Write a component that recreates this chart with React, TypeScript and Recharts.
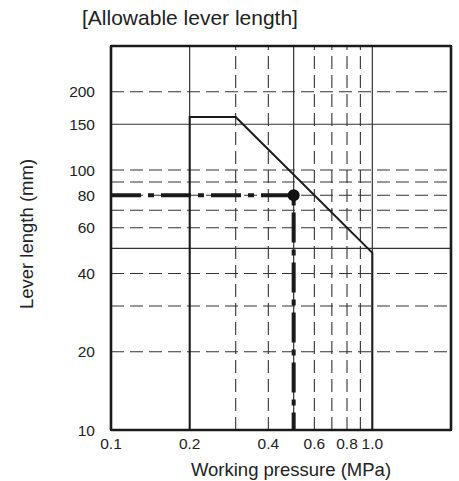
import React from 'react';
import {
  ComposedChart,
  Line,
  XAxis,
  YAxis,
  ReferenceLine,
  ReferenceDot,
} from 'recharts';

// Axis ticks
const pressureTicks = [0.1, 0.2, 0.4, 0.6, 0.8, 1.0];
const lengthTicks = [10, 20, 40, 60, 80, 100, 150, 200];

// Grid lines
const pressureSolidGrid = [0.2, 0.5, 1.0];
const pressureDashedGrid = [0.3, 0.4, 0.6, 0.7, 0.8, 0.9];
const lengthSolidGrid = [50, 150];
const lengthDashedGrid = [20, 30, 40, 60, 70, 80, 90, 100, 200];

// Allowable range boundary
const boundaryPressure = [0.2, 0.2, 0.3, 1.0, 1.0];
const boundaryLength = [10, 160, 160, 48, 10];

// Example reading (0.5 MPa, 80 mm)
const examplePressure = [0.1, 0.5, 0.5];
const exampleLength = [80, 80, 10];
const examplePoint = { p: 0.5, l: 80 };

const pressureDomain = [0.1, 2];
const lengthDomain = [10, 300];

const boundaryData = boundaryPressure.map((p, i) => ({ p, l: boundaryLength[i] }));
const exampleData = examplePressure.map((p, i) => ({ p, l: exampleLength[i] }));

// Layout
const CHART_W = 459;
const CHART_H = 481;
const MARGIN = { top: 46, right: 8, bottom: 21, left: 51 };
const Y_AXIS_W = 60;
const X_AXIS_H = 30;
const PLOT_LEFT = MARGIN.left + Y_AXIS_W;
const PLOT_TOP = MARGIN.top;
const PLOT_W = CHART_W - MARGIN.left - MARGIN.right - Y_AXIS_W;
const PLOT_H = CHART_H - MARGIN.top - MARGIN.bottom - X_AXIS_H;
const FRAME_W = 2;

const FONT = '"Liberation Sans", Arial, Helvetica, sans-serif';
const TEXT = '#222';
const GRID = '#333';
const FRAME_COLOR = '#1a1a1a';

export default function App() {
  return (
    <div
      style={{
        position: 'fixed',
        left: 0,
        top: 0,
        width: CHART_W,
        height: CHART_H,
        background: '#fff',
        fontFamily: FONT,
        color: TEXT,
      }}
    >
      <ComposedChart width={CHART_W} height={CHART_H} margin={MARGIN}>
        <XAxis
          dataKey="p"
          type="number"
          scale="log"
          domain={pressureDomain}
          allowDataOverflow
          ticks={pressureTicks}
          tickFormatter={(v: number) => v.toFixed(1)}
          interval={0}
          axisLine={{ stroke: FRAME_COLOR, strokeWidth: 2.6 }}
          tickLine={false}
          height={X_AXIS_H}
          tick={{ fill: TEXT, fontSize: 15.5, fontFamily: FONT }}
        />
        <YAxis
          dataKey="l"
          type="number"
          scale="log"
          domain={lengthDomain}
          allowDataOverflow
          ticks={lengthTicks}
          interval={0}
          axisLine={{ stroke: FRAME_COLOR, strokeWidth: 2.6 }}
          tickLine={false}
          tickMargin={10}
          width={Y_AXIS_W}
          tick={{ fill: TEXT, fontSize: 15.5, fontFamily: FONT }}
        />
        {pressureDashedGrid.map((v) => (
          <ReferenceLine key={'xd' + v} x={v} stroke={GRID} strokeWidth={1.1} strokeDasharray="13 6" />
        ))}
        {lengthDashedGrid.map((v) => (
          <ReferenceLine key={'yd' + v} y={v} stroke={GRID} strokeWidth={1.1} strokeDasharray="13 6" />
        ))}
        {pressureSolidGrid.map((v) => (
          <ReferenceLine key={'xs' + v} x={v} stroke={GRID} strokeWidth={1.2} />
        ))}
        {lengthSolidGrid.map((v) => (
          <ReferenceLine key={'ys' + v} y={v} stroke={GRID} strokeWidth={1.2} />
        ))}
        <ReferenceLine y={lengthDomain[1]} ifOverflow="visible" stroke={FRAME_COLOR} strokeWidth={2.6} />
        <ReferenceLine x={pressureDomain[1]} ifOverflow="visible" stroke={FRAME_COLOR} strokeWidth={2.6} />
        <Line
          data={boundaryData}
          dataKey="l"
          type="linear"
          stroke={FRAME_COLOR}
          strokeWidth={2}
          dot={false}
          activeDot={false}
          isAnimationActive={false}
        />
        <Line
          data={exampleData}
          dataKey="l"
          type="linear"
          stroke={FRAME_COLOR}
          strokeWidth={4}
          strokeDasharray="30 7 6 7"
          dot={false}
          activeDot={false}
          isAnimationActive={false}
        />
        <ReferenceDot
          x={examplePoint.p}
          y={examplePoint.l}
          r={6}
          fill="#111"
          stroke="none"
        />
      </ComposedChart>

      {/* plot frame, derived from the chart layout constants */}
      <div
        style={{
          position: 'absolute',
          left: PLOT_LEFT - FRAME_W / 2,
          top: PLOT_TOP - FRAME_W / 2,
          width: PLOT_W + FRAME_W,
          height: PLOT_H + FRAME_W,
          boxSizing: 'border-box',
          border: `${FRAME_W}px solid ${FRAME_COLOR}`,
          pointerEvents: 'none',
        }}
      />

      <div
        style={{
          position: 'absolute',
          left: 82,
          top: 7,
          fontSize: 21,
          lineHeight: 1,
          whiteSpace: 'nowrap',
        }}
      >
        [Allowable lever length]
      </div>
      <div
        style={{
          position: 'absolute',
          left: 291,
          top: 461,
          transform: 'translateX(-50%)',
          fontSize: 18.5,
          lineHeight: 1,
          whiteSpace: 'nowrap',
        }}
      >
        Working pressure (MPa)
      </div>
      <div
        style={{
          position: 'absolute',
          left: 27,
          top: 234,
          transform: 'translate(-50%, -50%) rotate(-90deg)',
          fontSize: 18.5,
          lineHeight: 1,
          whiteSpace: 'nowrap',
        }}
      >
        Lever length (mm)
      </div>
    </div>
  );
}
